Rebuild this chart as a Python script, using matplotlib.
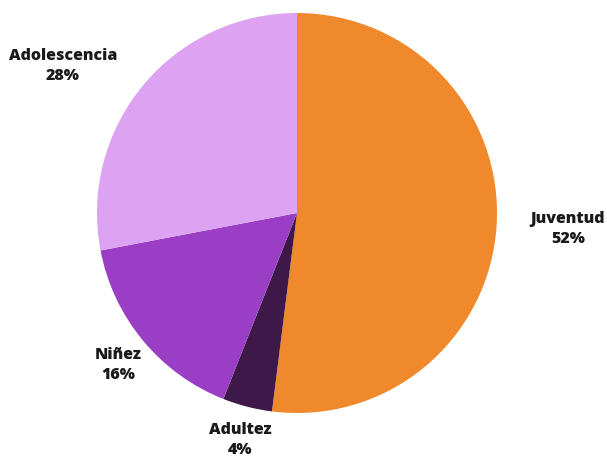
import matplotlib
matplotlib.use("Agg")
import matplotlib.pyplot as plt

categories = ["Juventud", "Adultez", "Niñez", "Adolescencia"]
values = [52, 4, 16, 28]
colors = ["#F0892B", "#3E1848", "#9A3EC6", "#DDA2F2"]

fig = plt.figure(figsize=(6.07, 4.59), dpi=100)
W, H = 607, 459
cx, cy, r = 297, 213, 200
ax = fig.add_axes([(cx - r) / W, (H - cy - r) / H, 2 * r / W, 2 * r / H])
ax.pie(values, colors=colors, startangle=90, counterclock=False, radius=1,
       wedgeprops=dict(linewidth=0))
ax.set_xlim(-1, 1)
ax.set_ylim(-1, 1)
ax.set_aspect("auto")
ax.axis("off")

label_px = [(568, 229), (240, 440), (118, 365), (63, 66)]
for cat, val, (px, py) in zip(categories, values, label_px):
    ax.text((px - cx) / r, (cy - py) / r, f"{cat}\n{val}%", ha="center", va="center",
            fontsize=11.5, fontweight=800, family=["Open Sans", "DejaVu Sans"],
            linespacing=1.3, color="#1a1a1a", clip_on=False)

fig.savefig("out.png", dpi=100)
